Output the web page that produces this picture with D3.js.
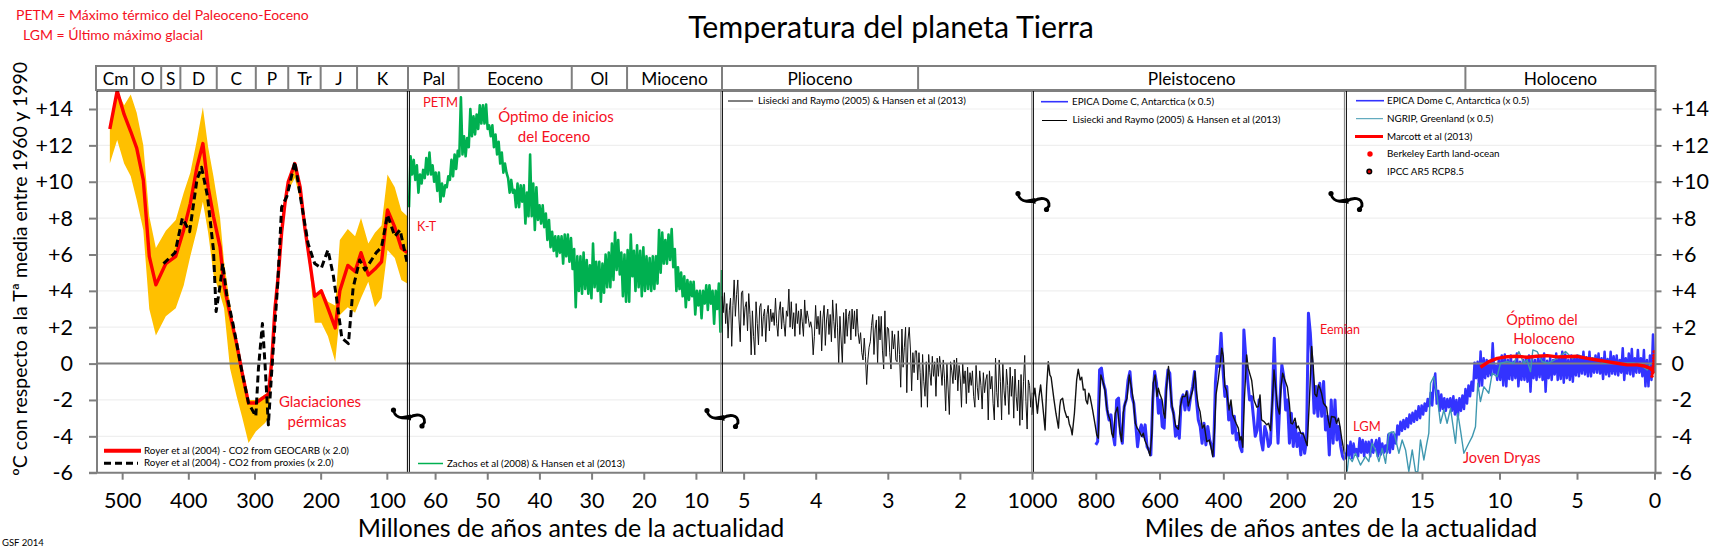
<!DOCTYPE html>
<html>
<head>
<meta charset="utf-8">
<title>Temperatura del planeta Tierra</title>
<script src="https://cdnjs.cloudflare.com/ajax/libs/d3/7.8.5/d3.min.js"></script>
<style>
body{margin:0;background:#fff;}
text{font-family:Lato,"Open Sans",sans-serif;fill:#000;}
.red{fill:#f5101e;}
</style>
</head>
<body>
<div id="chart"></div>
<script>
// ---- datos ----
var tempTicks = [-6,-4,-2,0,2,4,6,8,10,12,14];

// Royer et al (2004), Ma
var royerAge = [518.6,507.5,497,487,478,468,459,449,434,419,407,397,387,378,370,362,352,346,337,327,319,309,298,284,279,274,269,264,259,254,249,239,231,224,216,209,199,189,178,171,159,148,139,128,118,108,99,88,78,69];
var royerGeocarb = [12.9,15,13.7,12.76,11.85,10.1,5.9,4.33,5.5,5.9,7.35,8.8,10.8,12.1,9.7,8.1,6.4,4.3,2.7,1.1,-0.44,-2.17,-2.17,-1.8,-1.7,0.1,3.05,4.87,7.2,8.8,10,11,9.7,7.5,5.5,3.7,4,3.05,1.96,4,5.4,5.06,6.1,4.87,5.2,5.6,8.45,7.5,6.35,6.1];
var royerHigh = [12.9,15,14.2,14.8,13.8,12,8.1,6.35,7.3,7.9,9.4,10.5,12.3,14.1,11.9,10.3,8,5.6,3.3,1.2,-0.3,-2,-2,-1.7,-1.5,0.2,3.2,5,7.4,9,10.1,11,9.8,7.6,5.6,3.8,4.1,3.4,3.2,6.8,7.4,7,8,6.6,7.2,7.6,10.4,9.7,8.4,8.1];
var royerLow = [11,12.3,11,10.3,9,7.35,3,1.55,2.6,3.05,4.3,5.9,7.35,8.9,7.2,4.9,3.8,3.05,-0.25,-1.8,-2.9,-4.37,-3.74,-3.27,-3,-0.6,2.8,4.7,7,8.6,9.5,10.2,9,7.2,5,2.25,2.25,1.5,0.1,2.67,3.1,2.8,3.6,4.5,3.1,3.6,6.25,5.8,4.6,4.4];
var proxyAge = [437.5,420,409,398,387,380,371,362,358,352,348,342,332,319,309,298,294,288,284,279,274,265,259,251,239,229,219,209,199,189,181,176,168,158,151,141,133,116,108,99,88,80,69];
var proxyTemp = [5.5,6.1,8,7.26,10.1,10.8,9.2,6.25,2.86,4.3,5.5,3.8,2.1,-0.44,-2.17,-2.9,-0.25,2.2,-0.07,-3.37,-0.44,4.33,8.6,9.2,11.1,8.8,6.6,5.5,5.25,6.25,4.87,3.6,1.4,1.1,4.15,5.7,5.15,6.1,6.4,8.18,7,7.35,5.5];

// Zachos et al (2008), de 65 a 5 Ma, muestreo regular
var zachosTemp = [
  8.6,11.4,10.4,11.2,10.1,10.9,9.4,10.4,9.9,10.65,
  10.2,11.3,10.4,11.6,10.4,10.9,10,10.5,9.5,10.5,
  8.9,9.9,9.2,9.8,9.7,10.3,10.1,11.2,10.3,11.5,
  10.7,11.7,11.4,14.65,11.5,12.5,11.4,12.4,11.9,14,
  12.5,13.6,12.6,13.7,12.9,14.2,13.2,14.2,13.2,14.25,
  12.9,13.1,12.5,13.1,11.9,12.6,11.5,12.2,11,11.6,
  10.5,11,10.5,10.2,9.4,10.1,9.4,9.55,8.6,9.9,
  8.6,9.8,8.9,9.8,7.7,9.4,8.1,11.5,8.1,9.9,
  7.35,9.7,7.9,8.7,7.7,8.7,7.5,8.25,6.8,7.9,
  6.4,7.25,6.2,7,5.9,7,6.1,7,5.5,7.1,
  5.9,7.1,5.6,6.9,5.2,6.3,3.1,5.9,4,5.9,
  3.85,6.1,4.1,5.7,3.85,5.4,3.6,6.6,4.2,5.6,
  4,5.6,3.4,5.5,3.9,6,4.2,6.1,4.2,6.6,
  4.6,7.2,5.15,6.8,4.9,6.1,3.7,6,3.4,6.25,
  3.4,7.1,4.8,6.2,4,6.5,4.2,6.2,3.7,6.4,
  4,5.9,4.1,5.8,4,5.9,4.1,5.9,4.4,7.35,
  5,7.2,5.5,6.8,5.5,7.1,5.7,7.4,5.3,6.3,
  4,5.3,4.1,5,3.7,4.8,3.1,4.6,3.5,4.5,
  3.7,4.5,2.7,4,3.2,4,2.5,4,3.3,4.3,
  2.95,4.3,3.3,4,2.2,4,3,4.4,1.75,5.15
];

// Lisiecki and Raymo (2005), de 5.3 a 1 Ma, muestreo regular
var pliocenoTemp = [
  3.7,2.8,3.9,2.2,3.3,1.4,2.9,3.6,.95,3.2,4.6,2.6,3.8,4.6,2.4,1.2,
  3.9,4,2.1,3.1,3.4,1.8,3.85,2.7,.48,2.9,1.5,.48,3.4,2.2,1.03,3.1,
  3.3,1.5,2.6,3,1.2,2.7,3.2,1.8,3,2.3,2.8,2.1,3.6,2.2,1.5,2.9,
  3.4,1.9,3.1,2.2,1.5,2.9,2.6,4.1,2,3.4,1.9,2.8,1.5,3.3,2.2,2.9,
  1.6,3,2.3,1.5,3.5,2.2,2.9,2.5,2,2.3,1.9,.48,1.5,3.2,1.9,2.6,
  1.6,2.9,.7,2.5,3.2,1,2.4,3,1.6,2.7,1.2,3.5,2.3,1.4,3.3,2,
  0,2.6,1.3,0,2.8,1.1,3,1.5,2.6,2.9,1.3,3,1.9,2.9,1.5,3,
  1.7,1.1,1.7,.6,.2,1.4,.4,-1.15,.2,.9,1.2,2.1,2.7,.5,1.9,2.4,
  0,2.6,1.3,2.6,.7,-.3,2.9,.4,2,1.9,.6,-.3,1.8,.8,1.6,.2,
  .1,1.8,.5,-1.3,1.9,-.2,.9,2,-1.6,1.3,2,.8,-1.5,.6,-.5,.7,
  .7,-.9,.6,-.5,-2.4,.5,-1,-1.8,.1,-2.4,.5,-.5,-1.2,.4,-.7,.1,
  -1.8,.3,-.7,.4,-.3,-1.2,.2,-.8,-2.6,0,-1.4,-2.8,.1,-.4,-1.1,.2,
  -.9,.3,-1.5,-.1,-.8,-2.4,0,-1.1,-.4,-2.2,-.2,-1.6,-.5,-1.2,-.4,-1.8,
  -2.4,-.1,-1.3,-2,-.4,-1.2,-2.5,-.5,-1.6,-.9,-.6,-3.1,-.4,-1.4,-.7,-2.2,
  -3.1,.3,-1.6,-2.4,.2,-1,-3.1,0,-1.5,-2.3,-.3,-1.2,-2.8,-.2,-1.8,-.7,
  -3,-.3,-1.8,-2.6,-.9,-3.4,-.6,-3.1,-1,.45,-2.1,-3.6,-.9,-1.2,-2.4,-1.6
];

// Lisiecki and Raymo, ka
var lisieckiAge = [1001,997,991,983,978,973,967,959,954,949,944,940,935,931,925,917,913,910,904,898,891,887,883,878,874,867,860,855,849,844,839,834,831,826,822,818,814,810,802,797,792,788,784,776,771,766,761,755,750,745,739,732,726,719,714,708,702,695,688,682,676,670,663,656,651,646,638,630,624,620,614,608,604,599,592,587,583,578,572,567,562,557,549,541,535,528,520,515,510,505,496,489,484,478,473,466,460,452,444,439,433,428,423,416,410,405,400,395,390,382,376,371,360,353,348,344,339,334,327,322,316,311,304,295,290,285,280,272,264,258,252,246,241,235,230,224,219,214,207,199,193,188,183,175,170,165,157,149,143,137,130,123,118,113,107,102,97,92,86,76,71,66,61,50,45,39,34,29,20];
var lisieckiTemp = [-2.82,-2,-1.35,-2.73,-1.81,-1.17,-2.18,-3.65,-1.26,.11,-.62,-.75,-1.45,-2,-2.73,-3.55,-2.36,-2,-1.9,-2.55,-2.95,-2.91,-3.32,-3.55,-3.92,-2.73,-.9,-.31,-.9,-.75,-1.45,-1.41,-2,-2.22,-1.63,-1.81,-2.18,-2.55,-3.37,-3.92,-4.1,-2,-.62,-1.08,-1.48,-2.36,-2.82,-3.1,-3.83,-4.05,-2.73,-2.4,-3.46,-4.29,-2.73,-2.18,-1.9,-.62,-1.35,-2.03,-3.28,-3.55,-3.74,-4.01,-3.83,-4.23,-4.56,-5.06,-3.83,-1.08,-.62,-1.81,-1.35,-1.67,-2,-2.73,-3,-1.26,-.16,-1.17,-2.18,-2.73,-3.46,-3.61,-2.36,-1.81,-1.81,-1.54,-2.33,-2,-1.45,-.44,-1.63,-2.36,-2.64,-3.55,-3.37,-4.29,-4.2,-4.56,-5.11,-3.83,-1.72,-.9,-.07,.85,.39,-1.26,-1.48,-2.55,-2,-2.82,-3.28,-3.55,-4.2,-4.01,-4.6,-2,.48,-.25,-.62,-.93,-2,-2.4,-2.36,-1.72,-3.1,-3.19,-3.37,-3.28,-3.68,-2,-.35,-1.45,-2.36,-2.77,-1.26,-.53,-.9,-1.3,-2.18,-3.28,-3.32,-3,-3.55,-3.43,-3.83,-3.87,-4.2,-4.51,-2,.94,-.16,-1.67,-1.81,-1.17,-1.35,-1.63,-2.18,-2.4,-3.1,-3.5,-2.91,-2.95,-3.28,-3,-3.46,-4.1,-4.97];

// EPICA Dome C (x 0.5), de 800 a 20 ka, muestreo regular
var epicaLongTemp = [
  -4.47,-4.29,-.35,-.25,-1.08,-1.45,-2.55,-3.1,-2.82,-3.83,
  -4.47,-2,-1.9,-3.83,-4.38,-2.36,-2,-.9,-.44,-1.81,
  -2.18,-3.28,-4.57,-3.74,-3.37,-4,-3.37,-4.57,-4.75,-5.02,
  -2,-.44,-1.08,-2.73,-2,-3.46,-3.55,-1.45,-.35,-.53,
  -2.36,-2.73,-4,-3.46,-4.1,-2,-1.72,-2.55,-1.54,-2.55,
  -1.81,-1.26,-.44,-2,-3.1,-3.46,-4.38,-3.28,-4.47,-3.46,
  -4.2,-4.56,-5.08,-1.08,.39,-.16,1.67,-.35,-1.81,-1.26,
  -3.1,-2.36,-3.83,-2.9,-4.2,-3.83,-4.56,-4.84,1.85,.39,
  -.9,-2,-1.81,-2.9,-4,-3.65,-2,-4.2,-4.75,-3.46,
  -3.83,-4.56,-4.38,-2,1.39,-2,-4.38,-2,-.07,-.71,
  -2.55,-2,-4.38,-2.73,-4.56,-3.28,-4.56,-3.83,-5.02,-3.83,
  -4.93,-4.2,2.77,1.67,-.16,-2.73,-1.26,-2.9,-1.08,-2.9,
  -.99,-3.65,-2.9,-5.02,-2,-4.38,-2,-4.2,-3.46,-4.56,-5.11,-5.3
];

// EPICA Dome C (x 0.5), de 20 a 0 ka, muestreo regular
var epicaShortTemp = [
  -4.9,-5.2,-4.5,-5.1,-4.3,-5.2,-4.4,-4.9,-4.7,-5.1,
  -4.1,-4.9,-4.2,-5.1,-4.3,-4.9,-4.3,-5.1,-4.2,-4.9,
  -4.5,-4.2,-5.1,-4.1,-5,-4.4,-4.9,-4.5,-4.9,-3.9,
  -4.9,-3.8,-4.7,-3.9,-4.4,-3.4,-3.9,-3.2,-3.7,-3.1,
  -3.6,-3,-3.5,-2.8,-3.3,-2.7,-3.2,-2.6,-3.1,-2.35,
  -3,-2.3,-2.8,-2.2,-2.6,-1.95,-2.35,-1.6,-2.3,-1.1,
  -.55,-2.2,-1.5,-2.6,-1.7,-2.5,-1.9,-2.6,-1.95,-2.4,
  -1.9,-2.6,-1.8,-2.8,-2,-2.9,-1.9,-2.6,-1.75,-2.5,
  -1.4,-2.2,-1.2,-1.8,-1,-1.5,.05,-.8,.1,-1.25,
  .66,-1.2,.3,-.8,.2,-.7,.1,-.65,1.12,-.5,
  -.1,-.9,.2,-.9,.45,-1.2,.5,-1.25,.2,-.85,
  .45,-.9,.1,-.8,.55,-1.25,.1,-.9,.2,-.9,
  .3,-1,.45,-1.55,.3,-.8,.2,-.9,.3,-.75,
  .4,-.9,.55,-1.55,.15,-.8,.35,-.9,.2,-.6,
  .55,-.9,.3,-.85,.65,-1.05,.5,-.8,.2,-.9,
  .45,-1,.4,-.65,.45,-.7,.4,-.55,.65,-.6,
  .35,-.7,.65,-.7,.3,-.5,.45,-.5,.55,-.55,
  .3,-.85,.65,-.6,.25,-.7,.65,-.55,.4,-.6,
  .45,-.65,.2,-.5,.85,-.9,.3,-.55,.55,-.6,
  .8,-.7,.3,-.5,.75,-.5,.3,-.7,.75,-1.25,
  .2,-1.25,.45,-.9,1.6,-.5
];

// NGRIP (x 0.5), ka
var ngripAge = [19.83,19.72,19.5,19.29,18.97,18.65,18.43,18.22,18,17.78,17.57,17.35,17.14,16.82,16.49,16.28,16.06,15.85,15.63,15.42,15.27,15.1,14.88,14.71,14.56,14.45,14.24,14.02,13.81,13.59,13.38,13.16,12.84,12.69,12.52,12.3,11.98,11.76,11.55,11.4,11.23,11.01,10.69,10.47,10.15,9.94,9.51,9.08,8.75,8.43,8.22,8,7.85,7.57,7.25,6.82,6.28,5.74,5.31,4.88,4.34,3.81,3.27,2.62,1.98,1.33,.9,.47,.26];
var ngripTemp = [-5.94,-5.12,-5.39,-4.93,-5.58,-5.12,-5.39,-4.38,-4.75,-5.39,-4.66,-5.48,-3.83,-3.74,-4.93,-4.2,-4.75,-5.94,-4.75,-5.94,-5.94,-4.2,-5.3,-4.48,-3.83,-1.08,-.72,-1.82,-3.28,-2.55,-3.28,-2.46,-4.38,-2.73,-3.65,-4.93,-4.38,-4.02,-3.47,-1.08,-2.09,-1.27,-1.63,-.53,-.72,.02,.11,.02,.66,.02,.2,-.44,.75,.66,.11,.02,.29,.66,.29,.47,.29,.29,.02,.11,.02,.02,-.07,-.35,.02];

// Marcott et al (2013), ka
var marcottAge = [11.23,10.69,10.15,9.51,8.86,8.22,7.57,6.92,6.28,5.63,4.99,4.34,3.7,3.05,2.41,1.76,1.12,.69,.26,0];
var marcottTemp = [-.2,.11,.29,.38,.4,.35,.4,.44,.37,.38,.4,.29,.2,.11,.02,-.07,-.07,-.13,-.26,-.53];

// Berkeley Earth, ka
var berkeleyAge = [.16,.14,.12,.1,.08,.06,.05,.04,.03,.02];
var berkeleyTemp = [-.7,-.55,-.4,-.3,-.15,0,.15,.3,.45,.65];

// periodos: nombre y limite final en la escala de cada tramo
var eraNames = ["Cm","O","S","D","C","P","Tr","J","K"];
var eraEdges = [538,482,441,412,357,298,249,200,145,68];
var tertiaryNames = ["Pal","Eoceno","Ol","Mioceno"];
var tertiaryEdges = [65,55.5,33.8,23.2,5];
var pliocenoEdges = [5.3,2.58];
var holocenoEdge = 12.2;

var ticksMa = [500,400,300,200,100];
var ticksTertiary = [60,50,40,30,20,10];
var ticksPlioceno = [5,4,3,2];
var ticksKa = [1000,800,600,400,200,20];
var ticksHoloceno = [15,10,5,0];

// ---- medidas ----
var width = 1715, height = 551;
var plotTop = 91, plotBottom = 472.7, plotLeft = 97, plotRight = 1655.5;
var bandTop = 66, bandBottom = 90;

var svg = d3.select("#chart").append("svg")
  .attr("width", width)
  .attr("height", height)
  .style("display", "block");

var y = d3.scaleLinear().domain([-6, 14]).range([plotBottom, 109]);

var x1 = d3.scaleLinear().domain([538, 68]).range([plotLeft, 408]);
var x2 = d3.scaleLinear().domain([65, 5]).range([409, 722]);
var x3 = d3.scaleLinear().domain([5.3, 1]).range([722, 1032]);
var x4 = d3.scaleLinear().domain([1000, 20]).range([1032, 1344.5]);
var x5 = d3.scaleLinear().domain([20, 0]).range([1344.5, 1654.5]);

function evenAges(values, from, to){
  var s = d3.scaleLinear().domain([0, values.length - 1]).range([from, to]);
  return values.map(function(d, i){ return s(i); });
}

function clipFor(id, left, right){
  svg.append("clipPath").attr("id", id).append("rect")
    .attr("x", left).attr("y", plotTop).attr("width", right - left).attr("height", plotBottom - plotTop);
}
clipFor("clip1", plotLeft, 408);
clipFor("clip2", 408, 722);
clipFor("clip5", 1345, plotRight);

function drawLine(xs, ages, temps, color, w, clip, dash){
  var line = d3.line()
    .x(function(d){ return xs(d[0]); })
    .y(function(d){ return y(d[1]); });
  var p = svg.append("path")
    .datum(d3.zip(ages, temps))
    .attr("d", line)
    .attr("fill", "none")
    .attr("stroke", color)
    .attr("stroke-width", w)
    .attr("stroke-linejoin", "round");
  if(clip){ p.attr("clip-path", "url(#" + clip + ")"); }
  if(dash){ p.attr("stroke-dasharray", dash); }
  return p;
}

// rejilla
svg.append("g").selectAll("line")
  .data(tempTicks.filter(function(d){ return d != 0 && d != -6; }))
  .enter().append("line")
  .attr("x1", plotLeft).attr("x2", plotRight)
  .attr("y1", function(d){ return y(d); }).attr("y2", function(d){ return y(d); })
  .attr("stroke", "#efefef").attr("stroke-width", 1.2);

// banda de Royer
var bandArea = d3.area()
  .x(function(d){ return x1(d[0]); })
  .y0(function(d){ return y(d[2]); })
  .y1(function(d){ return y(d[1]); });
svg.append("path")
  .datum(d3.zip(royerAge, royerHigh, royerLow))
  .attr("d", bandArea)
  .attr("fill", "#ffc000")
  .attr("clip-path", "url(#clip1)");

// series largas
var zachosAge = evenAges(zachosTemp, 65, 5);
var pliocenoAge = evenAges(pliocenoTemp, 5.3, 1);
var epicaLongAge = evenAges(epicaLongTemp, 800, 20);
var epicaShortAge = evenAges(epicaShortTemp, 20, 0);

drawLine(x2, zachosAge, zachosTemp, "#00b050", 2.6, "clip2");
drawLine(x3, pliocenoAge, pliocenoTemp, "#111", 1);
drawLine(x4, epicaLongAge, epicaLongTemp, "#3333ff", 3);
drawLine(x4, lisieckiAge, lisieckiTemp, "#111", 1.4);
drawLine(x5, epicaShortAge, epicaShortTemp, "#3333ff", 2.5, "clip5");

// linea del cero
svg.append("line")
  .attr("x1", plotLeft).attr("x2", plotRight)
  .attr("y1", y(0)).attr("y2", y(0))
  .attr("stroke", "#7f7f7f").attr("stroke-width", 2);

drawLine(x5, ngripAge, ngripTemp, "#3f98b0", 1.4, "clip5");
drawLine(x5, marcottAge, marcottTemp, "#ff0000", 3.4, "clip5");
svg.append("g").selectAll("circle")
  .data(d3.zip(berkeleyAge, berkeleyTemp))
  .enter().append("circle")
  .attr("cx", function(d){ return x5(d[0]); })
  .attr("cy", function(d){ return y(d[1]); })
  .attr("r", 1.7)
  .attr("fill", "#ff0000");

drawLine(x1, royerAge, royerGeocarb, "#ff0000", 3.4, "clip1");
drawLine(x1, proxyAge, proxyTemp, "#000", 3, "clip1", "7,4");

// ejes y marcos
function vLine(xPos, y0, y1, color, w){
  svg.append("line").attr("x1", xPos).attr("x2", xPos).attr("y1", y0).attr("y2", y1)
    .attr("stroke", color).attr("stroke-width", w);
}
function hLine(yPos, x0, x1, color, w){
  svg.append("line").attr("x1", x0).attr("x2", x1).attr("y1", yPos).attr("y2", yPos)
    .attr("stroke", color).attr("stroke-width", w);
}

vLine(plotLeft, bandBottom, plotBottom, "#7f7f7f", 2);
vLine(plotRight, bandBottom, plotBottom, "#7f7f7f", 2);
hLine(plotTop, plotLeft, plotRight, "#000", 1);
vLine(407.4, plotTop, plotBottom, "#000", 1);
vLine(409.4, plotTop, plotBottom, "#000", 1);
vLine(720.8, plotTop, plotBottom, "#7f7f7f", 1);
vLine(722.4, plotTop, plotBottom, "#000", 1);
vLine(1031.8, plotTop, plotBottom, "#7f7f7f", 1);
vLine(1033.4, plotTop, plotBottom, "#000", 1);
vLine(1344.4, plotTop, plotBottom, "#7f7f7f", 1);
vLine(1346.4, plotTop, plotBottom, "#000", 1);
hLine(plotBottom, 89, plotRight + 6, "#7f7f7f", 2);

function xAxis(scale, values, fmt){
  var g = svg.append("g")
    .attr("transform", "translate(0," + plotBottom + ")")
    .call(d3.axisBottom(scale).tickValues(values).tickSize(7).tickPadding(13)
      .tickFormat(fmt || function(d){ return d; }));
  g.select(".domain").remove();
  g.selectAll(".tick line").attr("stroke", "#7f7f7f").attr("stroke-width", 2);
  g.selectAll("text").style("font-size", "21.5px");
}
xAxis(x1, ticksMa);
xAxis(x2, ticksTertiary);
xAxis(x3, ticksPlioceno);
xAxis(x4, ticksKa);
xAxis(x5, ticksHoloceno);

function fmtTemp(d){ return d > 0 ? "+" + d : "" + d; }

var yLeft = svg.append("g")
  .attr("transform", "translate(" + plotLeft + ",0)")
  .call(d3.axisLeft(y).tickValues(tempTicks).tickSize(8).tickPadding(16).tickFormat(fmtTemp));
var yRight = svg.append("g")
  .attr("transform", "translate(" + plotRight + ",0)")
  .call(d3.axisRight(y).tickValues(tempTicks).tickSize(6).tickPadding(10).tickFormat(fmtTemp));
[yLeft, yRight].forEach(function(g){
  g.select(".domain").remove();
  g.selectAll(".tick line").attr("stroke", "#7f7f7f").attr("stroke-width", 2);
  g.selectAll("text").style("font-size", "21.5px");
});

// banda de periodos
svg.append("rect")
  .attr("x", plotLeft - 1).attr("y", bandTop)
  .attr("width", plotRight - plotLeft + 1).attr("height", bandBottom - bandTop)
  .attr("fill", "none").attr("stroke", "#7f7f7f").attr("stroke-width", 2);

function drawBand(scale, names, edges){
  edges.forEach(function(d, i){
    if(i > 0){ vLine(scale(d), bandTop, bandBottom, "#7f7f7f", 2); }
  });
  names.forEach(function(name, i){
    svg.append("text")
      .attr("x", (scale(edges[i]) + scale(edges[i + 1])) / 2)
      .attr("y", 84.5)
      .attr("text-anchor", "middle")
      .style("font-size", "17.3px")
      .text(name);
  });
}
drawBand(x1, eraNames, eraEdges);
drawBand(x2, tertiaryNames, tertiaryEdges);
drawBand(x3, ["Plioceno"], pliocenoEdges);
vLine(x5(holocenoEdge), bandTop, bandBottom, "#7f7f7f", 2);
svg.append("text").attr("x", (x3(pliocenoEdges[1]) + x5(holocenoEdge)) / 2).attr("y", 84.5)
  .attr("text-anchor", "middle").style("font-size", "17.3px").text("Pleistoceno");
svg.append("text").attr("x", (x5(holocenoEdge) + plotRight) / 2).attr("y", 84.5)
  .attr("text-anchor", "middle").style("font-size", "17.3px").text("Holoceno");

// marcas de cambio de escala
function breakMark(cx, cy){
  var g = svg.append("g").attr("transform", "translate(" + cx + "," + cy + ")");
  g.append("path")
    .attr("d", "M-14.5,-8 C-14,0 -6,1 1,0.5 C7,-4 17,-4 16.5,5 L14,8")
    .attr("fill", "none").attr("stroke", "#000").attr("stroke-width", 2.8);
  g.append("circle").attr("cx", -14.5).attr("cy", -7.5).attr("r", 2.6).attr("fill", "#000");
  g.append("circle").attr("cx", 14).attr("cy", 8.5).attr("r", 2.6).attr("fill", "#000");
  g.append("path").attr("d", "M-8,-1 L3,-3 L3,3 Z").attr("fill", "#000");
}
breakMark(408, 417.5);
breakMark(721.5, 418);
breakMark(1032.5, 201);
breakMark(1345.5, 201);

// textos
function label(txt, xPos, yPos, size, cls, anchor){
  return svg.append("text")
    .attr("x", xPos).attr("y", yPos)
    .attr("class", cls || null)
    .attr("text-anchor", anchor || "start")
    .style("font-size", size + "px")
    .text(txt);
}

label("Temperatura del planeta Tierra", 891, 38, 30.3, null, "middle");
label("PETM = Máximo térmico del Paleoceno-Eoceno", 16, 20, 14, "red");
label("LGM = Último máximo glacial", 23, 40, 14, "red");
label("GSF 2014", 2, 545.5, 9.5);
label("Millones de años antes de la actualidad", 571, 537, 25, null, "middle");
label("Miles de años antes de la actualidad", 1341, 537, 25, null, "middle");
svg.append("text")
  .attr("transform", "translate(27,269) rotate(-90)")
  .attr("text-anchor", "middle")
  .style("font-size", "19.5px")
  .text("ºC con respecto a la Tª media entre 1960 y 1990");

label("PETM", 423, 107, 13, "red");
label("Óptimo de inicios", 556, 122, 15, "red", "middle");
label("del Eoceno", 554, 142, 15, "red", "middle");
label("K-T", 417, 231, 12.5, "red");
label("Glaciaciones", 320, 407, 15, "red", "middle");
label("pérmicas", 317, 427, 15, "red", "middle");
label("Eemian", 1320, 334, 12.5, "red");
label("LGM", 1353, 431, 13, "red");
label("Joven Dryas", 1463, 463, 14.5, "red");
label("Óptimo del", 1542, 325, 14.5, "red", "middle");
label("Holoceno", 1544, 344, 14.5, "red", "middle");

// leyendas
function legendLine(x0, x1, yPos, color, w, dash){
  var l = svg.append("line").attr("x1", x0).attr("x2", x1).attr("y1", yPos).attr("y2", yPos)
    .attr("stroke", color).attr("stroke-width", w);
  if(dash){ l.attr("stroke-dasharray", dash); }
}
var legendSize = 9.8;

legendLine(104, 141, 450.7, "#ff0000", 4);
label("Royer et al (2004) - CO2 from GEOCARB (x 2.0)", 144, 453.5, legendSize);
legendLine(104, 138, 463.3, "#000", 3, "7,4");
label("Royer et al (2004) - CO2 from proxies (x 2.0)", 144, 466, legendSize);

legendLine(418, 443, 463.5, "#00b050", 1.5);
label("Zachos et al (2008) & Hansen et al (2013)", 447, 466.5, legendSize);

legendLine(728, 753, 101, "#000", 1);
label("Lisiecki and Raymo (2005) & Hansen et al (2013)", 758, 104, legendSize);

legendLine(1041, 1068, 101.7, "#3333ff", 1.6);
label("EPICA Dome C, Antarctica (x 0.5)", 1072, 105, legendSize);
legendLine(1042, 1067, 120.5, "#000", 1);
label("Lisiecki and Raymo (2005) & Hansen et al (2013)", 1072.5, 122.5, legendSize);

legendLine(1356, 1384, 100.7, "#3333ff", 1.6);
label("EPICA Dome C, Antarctica (x 0.5)", 1387, 103.5, legendSize);
legendLine(1356, 1383, 118.7, "#3f98b0", 1);
label("NGRIP, Greenland (x 0.5)", 1387, 121.5, legendSize);
legendLine(1355, 1383, 136.5, "#ff0000", 3);
label("Marcott et al (2013)", 1387, 139.5, legendSize);
svg.append("circle").attr("cx", 1370).attr("cy", 154).attr("r", 2.7).attr("fill", "#ff0000");
label("Berkeley Earth land-ocean", 1387, 156.5, legendSize);
svg.append("circle").attr("cx", 1369.3).attr("cy", 171.5).attr("r", 2.3).attr("fill", "#e00000")
  .attr("stroke", "#000").attr("stroke-width", 1.5);
label("IPCC AR5 RCP8.5", 1387, 174.5, legendSize);
</script>
</body>
</html>
